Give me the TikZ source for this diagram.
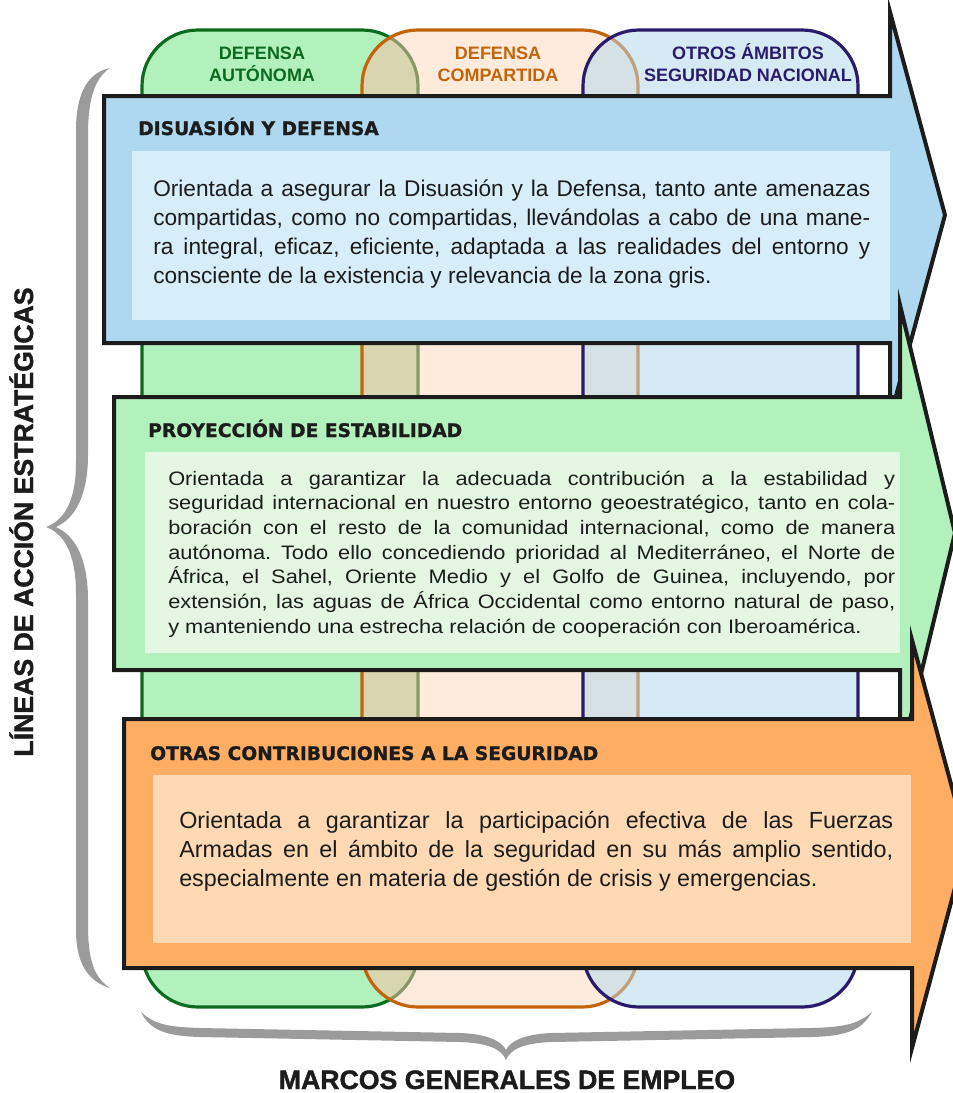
\documentclass[tikz,border=0pt]{standalone}
\usepackage{fontspec}
\setmainfont{Liberation Sans}
\newfontfamily\headfont{DejaVu Sans}[BoldFeatures={FakeBold=1.2}]
\newfontfamily\titlefont{Liberation Sans}[BoldFeatures={FakeBold=1.5}]
\newfontfamily\widefont{Liberation Sans}[FakeStretch=1.12]
\usepackage{xcolor}
\usepackage{tikz}
\usetikzlibrary{positioning}
\frenchspacing

\definecolor{ink}{HTML}{1C1C1C}
\definecolor{grnfill}{HTML}{B3F1BC}
\definecolor{grnline}{HTML}{0B6B1E}
\definecolor{orgfill}{HTML}{FFEBDC}
\definecolor{orgline}{HTML}{C4640A}
\definecolor{navfill}{HTML}{D6EAF6}
\definecolor{navline}{HTML}{2A1B6B}
\definecolor{gomix}{HTML}{D8D6B0}
\definecolor{grnmix}{HTML}{8A9868}
\definecolor{obmix}{HTML}{D5E1E4}
\definecolor{orgmix}{HTML}{BFA07A}
\definecolor{bandblue}{HTML}{ADD8EF}
\definecolor{innerblue}{HTML}{D6EDFA}
\definecolor{bandgreen}{HTML}{B3F1BC}
\definecolor{innergreen}{HTML}{E3F7E2}
\definecolor{bandorange}{HTML}{FFAD62}
\definecolor{innerorange}{HTML}{FED9B3}
\definecolor{bracegray}{HTML}{9B9B9B}

\begin{document}
\begin{tikzpicture}[x=0.75pt, y=-0.75pt]
\tikzstyle{pillar} = [line width=2.4pt, rounded corners=42pt]
\tikzstyle{band} = [draw=ink, line width=3pt, line join=miter, miter limit=25]
\tikzstyle{bandtitle} = [anchor=base west, inner sep=0, text=ink, font=\headfont\bfseries\fontsize{14}{16}\selectfont]
\tikzstyle{bandtext} = [anchor=north west, inner sep=0, text=ink, align=justify]
\tikzstyle{pillarlabel} = [anchor=north, inner sep=0, align=center, font=\bfseries\fontsize{13.5}{16.5}\selectfont]
\tikzstyle{sidetitle} = [anchor=base, inner sep=0, text=ink, font=\titlefont\bfseries\fontsize{20}{24}\selectfont]

\useasboundingbox (0,0) rectangle (953,1093);

\coordinate (gnw) at (142,30);
\coordinate (gse) at (418,1007);
\coordinate (onw) at (362,30);
\coordinate (ose) at (638,1007);
\coordinate (bnw) at (583,30);
\coordinate (bse) at (858,1007);

\draw[pillar, draw=grnline, fill=grnfill] (gnw) rectangle (gse);
\fill[pillar, fill=orgfill] (onw) rectangle (ose);
\begin{scope}
  \clip[rounded corners=42pt] (onw) rectangle (ose);
  \draw[pillar, draw=grnmix, fill=gomix] (gnw) rectangle (gse);
\end{scope}
\draw[pillar, draw=orgline] (onw) rectangle (ose);
\fill[pillar, fill=navfill] (bnw) rectangle (bse);
\begin{scope}
  \clip[rounded corners=42pt] (bnw) rectangle (bse);
  \draw[pillar, draw=orgmix, fill=obmix] (onw) rectangle (ose);
\end{scope}
\draw[pillar, draw=navline] (bnw) rectangle (bse);

\node[pillarlabel, text=grnline] (autonoma) at (262,41.7) {\rule{0pt}{13pt}DEFENSA\\AUTÓNOMA};
\node[pillarlabel, text=orgline] (compartida) at (498,41.7) {\rule{0pt}{13pt}DEFENSA\\COMPARTIDA};
\node[pillarlabel, text=navline] (otros) at (748,41.7) {\rule{0pt}{13pt}OTROS ÁMBITOS\\SEGURIDAD NACIONAL};

\draw[band, fill=bandblue] (104,96) -- (890,96) -- (890,12) -- (945,215) -- (890,418) -- (890,343) -- (104,343) -- cycle;
\fill[innerblue] (132,151) rectangle (890,320);
\node[bandtitle] (disuasion) at (138,135) {DISUASIÓN Y DEFENSA};
\node[bandtext, text width=537.75pt, font=\fontsize{17}{21.75}\selectfont] (disuasiontxt) at (153,175.7)
  {\strut Orientada a asegurar la Disuasión y la Defensa, tanto ante amenazas\linebreak
   compartidas, como no compartidas, llevándolas a cabo de una mane-\linebreak
   ra integral, eficaz, eficiente, adaptada a las realidades del entorno y\linebreak
   consciente de la existencia y relevancia de la zona gris.};

\draw[band, fill=bandgreen] (114,397) -- (900,397) -- (900,305) -- (955,533) -- (900,761) -- (900,670) -- (114,670) -- cycle;
\fill[innergreen] (145,452) rectangle (900,653);
\node[bandtitle] (proyeccion) at (148,437) {PROYECCIÓN DE ESTABILIDAD};
\node[bandtext, text width=545.25pt, font=\widefont\fontsize{14.6}{18.5}\selectfont] (proyecciontxt) at (168,467.7)
  {\strut Orientada a garantizar la adecuada contribución a la estabilidad y\linebreak
   seguridad internacional en nuestro entorno geoestratégico, tanto en cola-\linebreak
   boración con el resto de la comunidad internacional, como de manera\linebreak
   autónoma. Todo ello concediendo prioridad al Mediterráneo, el Norte de\linebreak
   África, el Sahel, Oriente Medio y el Golfo de Guinea, incluyendo, por\linebreak
   extensión, las aguas de África Occidental como entorno natural de paso,\linebreak
   y manteniendo una estrecha relación de cooperación con Iberoamérica.};

\draw[band, fill=bandorange] (124,719) -- (912,719) -- (912,640) -- (967,843) -- (912,1048) -- (912,968) -- (124,968) -- cycle;
\fill[innerorange] (153,775) rectangle (911,943);
\node[bandtitle] (otras) at (150,760) {OTRAS CONTRIBUCIONES A LA SEGURIDAD};
\node[bandtext, text width=535.5pt, font=\fontsize{17.5}{21.75}\selectfont] (otrastxt) at (179,807.7)
  {\strut Orientada a garantizar la participación efectiva de las Fuerzas\linebreak
   Armadas en el ámbito de la seguridad en su más amplio sentido,\linebreak
   especialmente en materia de gestión de crisis y emergencias.};

\fill[bracegray] (110,68) .. controls (90,72) and (76,90) .. (76,130) -- (76,462)
  .. controls (76,505) and (62,521) .. (46,527) .. controls (62,533) and (76,550) .. (76,594)
  -- (76,930) .. controls (76,966) and (90,982) .. (110,988)
  .. controls (95,978) and (88,962) .. (88,925) -- (88,600)
  .. controls (88,560) and (76,536) .. (56,527) .. controls (76,518) and (88,494) .. (88,455)
  -- (88,135) .. controls (88,98) and (95,78) .. (110,68) -- cycle;
\node[sidetitle, rotate=90] (lineas) at (33,522) {LÍNEAS DE ACCIÓN ESTRATÉGICAS};

\fill[bracegray] (141,1012) .. controls (150,1030) and (165,1036) .. (200,1037) -- (460,1042)
  .. controls (490,1043) and (502,1050) .. (506,1060) .. controls (510,1050) and (522,1043) .. (552,1042)
  -- (812,1037) .. controls (847,1036) and (862,1030) .. (872,1012)
  .. controls (858,1024) and (845,1027) .. (812,1028) -- (552,1033)
  .. controls (525,1034) and (510,1041) .. (506,1050) .. controls (502,1041) and (487,1034) .. (460,1033)
  -- (200,1028) .. controls (167,1027) and (154,1024) .. (141,1012) -- cycle;
\node[sidetitle] (marcos) at (507,1089) {MARCOS GENERALES DE EMPLEO};
\end{tikzpicture}
\end{document}
